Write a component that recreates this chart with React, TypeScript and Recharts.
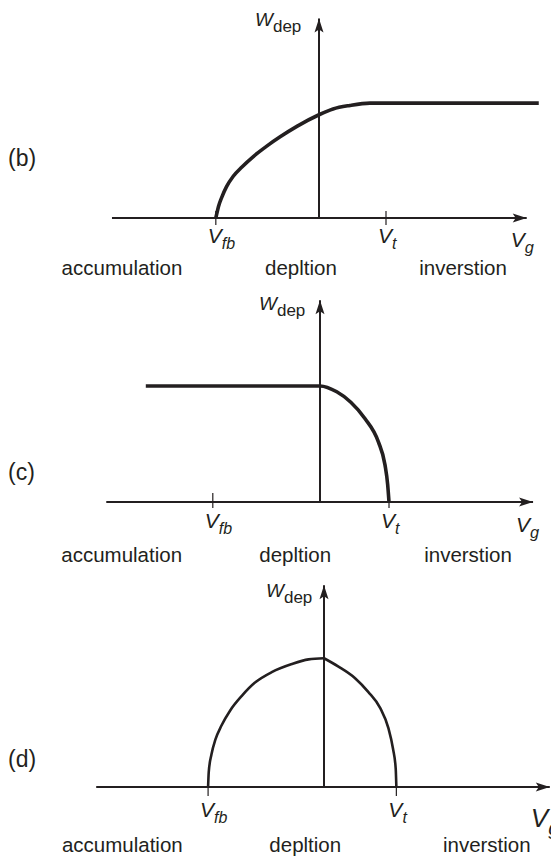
import { LineChart, Line, XAxis, YAxis, ReferenceLine, ReferenceDot } from 'recharts';

const INK = '#231f20';
const FONT = '"Liberation Sans", Arial, Helvetica, sans-serif';

// px per unit on each axis, shared by the three panels
const PX_X = 67;
const PX_Y = 116;
const W = 551;
const H = 286;
const Y_MIN = -0.3;
const Y_MAX = 1.8;

type Pt = { v: number; w: number };

const regions = ['accumulation', 'depltion', 'inverstion'];

// (b) W_dep rises from Vfb then saturates
const vMarksB = [-1.54, 1.0];
const curveB: Pt[] = [
  { v: -1.54, w: 0 },
  { v: -1.5, w: 0.1 },
  { v: -1.45, w: 0.18 },
  { v: -1.38, w: 0.27 },
  { v: -1.28, w: 0.36 },
  { v: -1.15, w: 0.44 },
  { v: -0.98, w: 0.53 },
  { v: -0.78, w: 0.62 },
  { v: -0.58, w: 0.7 },
  { v: -0.33, w: 0.79 },
  { v: 0, w: 0.89 },
  { v: 0.21, w: 0.94 },
  { v: 0.46, w: 0.97 },
  { v: 0.76, w: 0.99 },
  { v: 3.28, w: 0.99 },
];

// (c) flat, then falls to zero at Vt
const vMarksC = [-1.6, 1.03];
const curveC: Pt[] = [
  { v: -2.6, w: 1.0 },
  { v: 0, w: 1.0 },
  { v: 0.25, w: 0.95 },
  { v: 0.46, w: 0.86 },
  { v: 0.67, w: 0.72 },
  { v: 0.87, w: 0.52 },
  { v: 0.97, w: 0.32 },
  { v: 1.01, w: 0.15 },
  { v: 1.03, w: 0 },
];

// (d) dome between Vfb and Vt, with a kink at Vg = 0
const vMarksD = [-1.73, 1.08];
const curveDLeft: Pt[] = [
  { v: -1.73, w: 0 },
  { v: -1.72, w: 0.13 },
  { v: -1.68, w: 0.28 },
  { v: -1.62, w: 0.41 },
  { v: -1.53, w: 0.53 },
  { v: -1.4, w: 0.66 },
  { v: -1.22, w: 0.79 },
  { v: -1.03, w: 0.9 },
  { v: -0.78, w: 0.99 },
  { v: -0.48, w: 1.06 },
  { v: -0.23, w: 1.1 },
  { v: 0, w: 1.11 },
];
const curveDRight: Pt[] = [
  { v: 0, w: 1.11 },
  { v: 0.21, w: 1.04 },
  { v: 0.46, w: 0.94 },
  { v: 0.66, w: 0.82 },
  { v: 0.84, w: 0.68 },
  { v: 0.96, w: 0.51 },
  { v: 1.03, w: 0.33 },
  { v: 1.07, w: 0.16 },
  { v: 1.08, w: 0 },
];

interface PanelSpec {
  tag: string;
  top: number;
  axisY: number;
  yAxisX: number;
  curves: Pt[][];
  curveWidth: number;
  vMarks: number[];
  axisFrom: number;
  axisTo: number;
  wTop: number;
  regionAt: number[];
  regionDy: number;
  tickUp: number;
  tickDown: number;
  markDy: number;
  wLabel: { dx: number; dy: number };
  vgLabel: { dx: number; dy: number; size: number };
  tagY: number;
}

const panels: PanelSpec[] = [
  {
    tag: '(b)', top: 0, axisY: 218, yAxisX: 319,
    curves: [curveB], curveWidth: 3.6, vMarks: vMarksB,
    axisFrom: -3.09, axisTo: 3.1, wTop: 1.72,
    regionAt: [-2.94, -0.27, 2.15], regionDy: 57,
    tickUp: 7, tickDown: 7, markDy: 25,
    wLabel: { dx: -64, dy: 8 }, vgLabel: { dx: -16, dy: 29, size: 21 }, tagY: 158,
  },
  {
    tag: '(c)', top: 286, axisY: 502, yAxisX: 320,
    curves: [curveC], curveWidth: 3.6, vMarks: vMarksC,
    axisFrom: -3.19, axisTo: 3.18, wTop: 1.74,
    regionAt: [-2.96, -0.37, 2.21], regionDy: 60,
    tickUp: 9, tickDown: 6, markDy: 26,
    wLabel: { dx: -61, dy: 10 }, vgLabel: { dx: -17, dy: 30, size: 21 }, tagY: 472,
  },
  {
    tag: '(d)', top: 572, axisY: 787, yAxisX: 324,
    curves: [curveDLeft, curveDRight], curveWidth: 2.6, vMarks: vMarksD,
    axisFrom: -3.4, axisTo: 3.37, wTop: 1.74,
    regionAt: [-3.01, -0.28, 2.43], regionDy: 65,
    tickUp: 0, tickDown: 9, markDy: 30,
    wLabel: { dx: -58, dy: 12 }, vgLabel: { dx: -19, dy: 40, size: 26 }, tagY: 759,
  },
];

const markSubs = ['fb', 't'];

function Panel({ spec }: { spec: PanelSpec }) {
  const marginTop = spec.axisY - spec.top - Y_MAX * PX_Y;
  const marginBottom = spec.top + H - spec.axisY + Y_MIN * PX_Y;
  const xDomain = [-spec.yAxisX / PX_X, (W - spec.yAxisX) / PX_X];

  return (
    <div style={{ position: 'absolute', left: 0, top: spec.top, width: W, height: H }}>
      <LineChart
        width={W}
        height={H}
        margin={{ top: marginTop, right: 0, bottom: marginBottom, left: 0 }}
        style={{ overflow: 'visible' }}
      >
        <XAxis type="number" dataKey="v" domain={xDomain} allowDataOverflow hide />
        <YAxis type="number" domain={[Y_MIN, Y_MAX]} allowDataOverflow hide />

        {/* axes */}
        <ReferenceLine
          segment={[{ x: spec.axisFrom, y: 0 }, { x: spec.axisTo, y: 0 }]}
          stroke={INK}
          strokeWidth={2}
          ifOverflow="visible"
        />
        <ReferenceLine
          segment={[{ x: 0, y: 0 }, { x: 0, y: spec.wTop }]}
          stroke={INK}
          strokeWidth={2}
          ifOverflow="visible"
        />

        {/* Vg arrow + label */}
        <ReferenceDot
          x={spec.axisTo}
          y={0}
          ifOverflow="visible"
          shape={(p: any) => (
            <g>
              <path
                d={`M${p.cx},${p.cy} L${p.cx - 14},${p.cy - 4.5} L${p.cx - 11},${p.cy} L${p.cx - 14},${p.cy + 4.5} Z`}
                fill={INK}
              />
              <text x={p.cx + spec.vgLabel.dx} y={p.cy + spec.vgLabel.dy} fontFamily={FONT} fill={INK}>
                <tspan fontStyle="italic" fontSize={spec.vgLabel.size}>V</tspan>
                <tspan fontStyle="italic" fontSize={spec.vgLabel.size * 0.78} dy={spec.vgLabel.size * 0.3}>g</tspan>
              </text>
            </g>
          )}
        />

        {/* W_dep arrow + label */}
        <ReferenceDot
          x={0}
          y={spec.wTop}
          ifOverflow="visible"
          shape={(p: any) => (
            <g>
              <path
                d={`M${p.cx},${p.cy} L${p.cx - 4.5},${p.cy + 14} L${p.cx},${p.cy + 11} L${p.cx + 4.5},${p.cy + 14} Z`}
                fill={INK}
              />
              <text x={p.cx + spec.wLabel.dx} y={p.cy + spec.wLabel.dy} fontFamily={FONT} fill={INK}>
                <tspan fontStyle="italic" fontSize={19}>W</tspan>
                <tspan fontSize={17} dy={6}>dep</tspan>
              </text>
            </g>
          )}
        />

        {/* Vfb / Vt marks */}
        {spec.vMarks.map((v, i) => (
          <ReferenceDot
            key={markSubs[i]}
            x={v}
            y={0}
            ifOverflow="visible"
            shape={(p: any) => (
              <g>
                <line
                  x1={p.cx}
                  x2={p.cx}
                  y1={p.cy - spec.tickUp}
                  y2={p.cy + spec.tickDown}
                  stroke={INK}
                  strokeWidth={1.2}
                />
                <text x={p.cx - 8} y={p.cy + spec.markDy} fontFamily={FONT} fill={INK}>
                  <tspan fontStyle="italic" fontSize={21}>V</tspan>
                  <tspan fontStyle="italic" fontSize={16} dy={6}>{markSubs[i]}</tspan>
                </text>
              </g>
            )}
          />
        ))}

        {/* region names */}
        {regions.map((name, i) => (
          <ReferenceDot
            key={name}
            x={spec.regionAt[i]}
            y={0}
            ifOverflow="visible"
            shape={(p: any) => (
              <text
                x={p.cx}
                y={p.cy + spec.regionDy}
                textAnchor="middle"
                fontFamily={FONT}
                fontSize={20.5}
                fill={INK}
              >
                {name}
              </text>
            )}
          />
        ))}

        {spec.curves.map((c, i) => (
          <Line
            key={i}
            data={c}
            dataKey="w"
            type="monotone"
            stroke={INK}
            strokeWidth={spec.curveWidth}
            dot={false}
            activeDot={false}
            isAnimationActive={false}
          />
        ))}
      </LineChart>
      <div
        style={{
          position: 'absolute',
          left: 8,
          top: spec.tagY - spec.top - 14,
          fontFamily: FONT,
          fontSize: 23,
          color: INK,
          lineHeight: '28px',
        }}
      >
        {spec.tag}
      </div>
    </div>
  );
}

export default function App() {
  return (
    <div style={{ position: 'absolute', left: 0, top: 0, width: W, height: 858, background: '#fff', overflow: 'hidden' }}>
      {panels.map((s) => (
        <Panel key={s.tag} spec={s} />
      ))}
    </div>
  );
}
